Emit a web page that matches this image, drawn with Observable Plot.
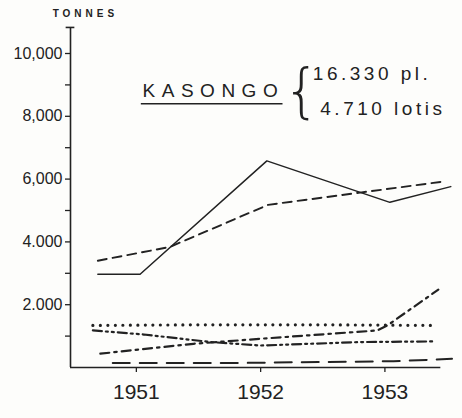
<!DOCTYPE html>
<html>
<head>
<meta charset="utf-8">
<script src="https://cdn.jsdelivr.net/npm/d3@7"></script>
<script src="https://cdn.jsdelivr.net/npm/@observablehq/plot@0.6"></script>
<style>
  html, body { margin: 0; padding: 0; background: #fdfdfb; }
  #chart svg { display: block; }
</style>
</head>
<body>
<div id="chart"></div>
<script>
// ---- data (years as fractional positions along the time axis, tonnes) ----
const yearTicks = [1951, 1952, 1953];
const yMajorTicks = [2000, 4000, 6000, 8000, 10000];
const yMajorLabels = ["2.000", "4.000", "6,000", "8,000", "10,000"];
const yMinorTicks = [1000, 3000, 5000, 7000, 9000];

const solidX = [1950.69, 1951.03, 1952.05, 1953.04, 1953.53];
const solidY = [2970, 2970, 6580, 5260, 5760];

const dashX = [1950.69, 1951.27, 1952.06, 1952.80, 1953.47];
const dashY = [3400, 3840, 5180, 5570, 5920];

const dotX = [1950.65, 1951.5, 1952.5, 1953.38];
const dotY = [1340, 1360, 1360, 1340];

const dashDotX = [1950.71, 1951.46, 1952.0, 1952.94, 1953.02, 1953.43];
const dashDotY = [440, 755, 915, 1180, 1340, 2480];

const dashDotDotX = [1950.65, 1951.06, 1951.6, 1952.0, 1952.8, 1953.39];
const dashDotDotY = [1180, 1050, 810, 700, 810, 830];

const longDashX = [1950.81, 1951.73, 1953.07, 1953.54];
const longDashY = [140, 140, 200, 275];

const title = "KASONGO";
const note1 = "16.330 pl.";
const note2 = "4.710 lotis";
const unitLabel = "TONNES";

const zip = (xs, ys) => xs.map((x, i) => ({x, y: ys[i]}));
const ink = "#222";
const xMin = 1950.47;

const chart = Plot.plot({
  width: 462,
  height: 418,
  marginLeft: 70,
  marginRight: 8,
  marginTop: 53,
  marginBottom: 51,
  style: {background: "#fdfdfb", color: ink, fontFamily: "Liberation Sans, Arial, sans-serif"},
  x: {domain: [xMin, 1953.56], axis: null},
  y: {domain: [0, 10000], axis: null},
  marks: [
    // axes frame
    Plot.ruleX([xMin], {y1: 0, y2: 10830, stroke: ink, strokeWidth: 1.6}),
    Plot.ruleY([10830], {x1: xMin - 0.035, x2: xMin + 0.035, stroke: ink, strokeWidth: 1.6}),
    Plot.ruleY([0], {x1: xMin, x2: 1953.45, stroke: ink, strokeWidth: 1.4}),
    Plot.axisY({ticks: yMajorTicks, tickSize: 5, tickPadding: 3, anchor: "left",
      tickFormat: (d) => yMajorLabels[yMajorTicks.indexOf(d)], fontSize: 16, stroke: ink, strokeWidth: 1.3, label: null}),
    Plot.axisY({ticks: yMinorTicks, tickSize: 5, tickFormat: () => "", anchor: "left", stroke: ink, strokeWidth: 1.3, label: null}),
    Plot.axisX({ticks: yearTicks, tickSize: 5, tickPadding: 12, tickFormat: (d) => String(d), fontSize: 21, anchor: "bottom", stroke: ink, strokeWidth: 1.3, label: null}),

    // series
    Plot.line(zip(solidX, solidY), {x: "x", y: "y", stroke: ink, strokeWidth: 1.5}),
    Plot.line(zip(dashX, dashY), {x: "x", y: "y", stroke: ink, strokeWidth: 1.9, strokeDasharray: "9,6"}),
    Plot.line(zip(dotX, dotY), {x: "x", y: "y", stroke: ink, strokeWidth: 3.2, strokeDasharray: "0,7.5", strokeLinecap: "round"}),
    Plot.line(zip(dashDotX, dashDotY), {x: "x", y: "y", stroke: ink, strokeWidth: 2.2, strokeDasharray: "9,5,2.5,5"}),
    Plot.line(zip(dashDotDotX, dashDotDotY), {x: "x", y: "y", stroke: ink, strokeWidth: 2.2, strokeDasharray: "9,4,2,4,2,4"}),
    Plot.line(zip(longDashX, longDashY), {x: "x", y: "y", stroke: ink, strokeWidth: 2, strokeDasharray: "17,10"}),

    // annotations
    Plot.text([unitLabel], {x: 1950.59, y: 11260, text: (d) => d, fontSize: 10, fontWeight: "bold", className: "unit", fill: ink}),
    Plot.text([title], {x: 1951.05, y: 8800, text: (d) => d, fontSize: 19, textAnchor: "start", className: "title", fill: ink}),
    Plot.ruleY([8400], {x1: 1951.04, x2: 1952.18, stroke: ink, strokeWidth: 1.5}),
    Plot.text(["{"], {x: 1952.33, y: 8750, text: (d) => d, fontSize: 58, fontWeight: 200, fontFamily: "DejaVu Sans", fill: ink}),
    Plot.text([note1], {x: 1952.42, y: 9360, text: (d) => d, fontSize: 19, textAnchor: "start", className: "note", fill: ink}),
    Plot.text([note2], {x: 1952.48, y: 8220, text: (d) => d, fontSize: 19, textAnchor: "start", className: "note", fill: ink})
  ]
});

d3.select(chart).selectAll(".unit text").attr("letter-spacing", 4);
d3.select(chart).selectAll(".title text").attr("letter-spacing", 6.5);
d3.select(chart).selectAll(".note text").attr("letter-spacing", 3.5);
document.getElementById("chart").appendChild(chart);
</script>
</body>
</html>
